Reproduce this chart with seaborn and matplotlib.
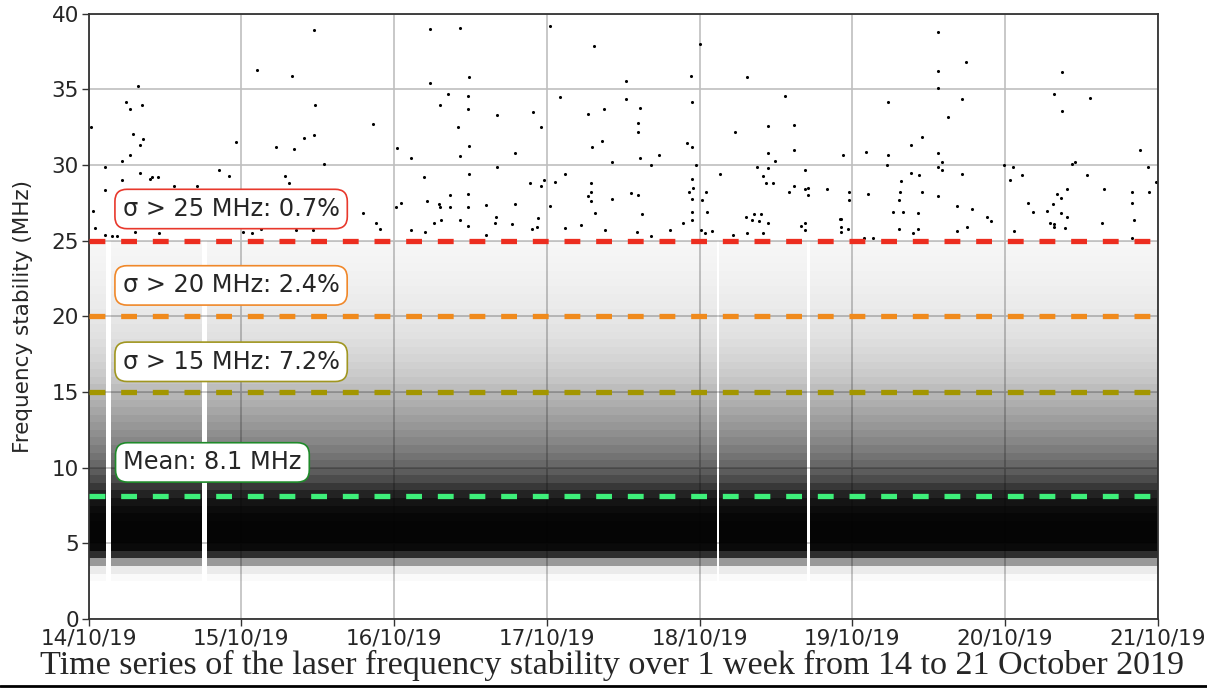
import numpy as np
import matplotlib
matplotlib.use("Agg")
import matplotlib.pyplot as plt
from matplotlib.colors import LinearSegmentedColormap
from matplotlib.lines import Line2D
import seaborn as sns

# ---------------------------------------------------------------- data
day_labels = ["14/10/19", "15/10/19", "16/10/19", "17/10/19",
              "18/10/19", "19/10/19", "20/10/19", "21/10/19"]

# Share of the plot covered by measurements, per 0.5 MHz band from 2.5 to 25 MHz
band_floor = 2.5
band_step = 0.5
band_cover = [0.02, 0.08, 0.40, 0.82, 0.96, 0.98, 0.98, 0.98, 0.97, 0.95,
              0.92, 0.86, 0.78, 0.70, 0.64, 0.59, 0.55, 0.51, 0.47, 0.44,
              0.41, 0.38, 0.35, 0.32, 0.29, 0.26, 0.23, 0.205, 0.185, 0.165,
              0.15, 0.135, 0.12, 0.11, 0.10, 0.09, 0.082, 0.075, 0.068, 0.062,
              0.056, 0.05, 0.045, 0.04, 0.036]

# Interruptions of the acquisition (hours after 14/10 00:00)
gap_start_h = [2.7, 17.9, 98.6, 112.9]
gap_end_h = [3.5, 18.7, 99.0, 113.3]

# Individual excursions above 25 MHz (hours after 14/10 00:00, MHz)
spike_h = [0.37, 7.7, 5.9, 6.5, 8.3, 6.9, 8.0, 8.6, 6.5, 5.2, 2.5, 23.2, 5.3, 8.0,
           9.6, 10.0, 10.85, 20.5, 22.1, 13.4, 17.0, 2.5, 0.6, 1.05, 7.2, 11.0,
           2.5, 3.6, 4.4,
           35.4, 26.4, 31.9, 35.6, 35.4, 33.8, 29.5, 32.2, 44.75, 37.05, 30.9,
           31.4, 43.1, 45.1, 45.7, 27.1, 24.2, 25.7, 32.6, 35.3,
           53.7, 58.3, 53.7, 59.7, 56.4, 55.2, 59.6, 59.6, 58.1, 59.7, 58.3,
           48.4, 50.7, 52.7, 59.7, 56.75, 59.6, 53.2, 55.1, 55.2, 56.75, 59.6,
           48.3, 49.1, 58.4, 59.6, 55.3, 54.3, 50.7, 52.9,
           72.5, 79.4, 84.4, 94.7, 96.0, 103.4, 74.05, 64.1, 69.8, 71.1, 67.05,
           64.1, 78.4, 81.0, 84.4, 86.7, 86.3, 86.3, 79.05, 80.7, 82.3, 86.7,
           89.6, 88.4, 94.8, 94.0, 94.8, 95.5, 109.5, 101.6, 106.8, 110.9,
           106.7, 110.9, 107.8, 105.0, 106.8, 105.95, 106.5, 107.5, 112.5,
           110.9, 112.6, 113.1, 113.1, 110.0, 116.1, 99.15, 62.4, 67.0, 69.3,
           71.1, 71.5, 73.3, 74.8, 72.5, 64.0, 63.9, 66.5, 70.6, 70.5, 69.7,
           78.9, 78.4, 79.0, 79.0, 79.6, 82.3, 85.2, 86.3, 86.9, 77.3, 81.1,
           74.8, 86.2, 88.3, 91.3, 93.4, 94.8, 94.8, 94.8, 94.9, 94.8, 94.3,
           96.4, 97.05, 97.1, 96.25, 98.0, 96.9, 103.3, 104.5, 105.7, 104.2,
           105.4, 106.8, 103.4, 105.95, 101.25, 111.9, 112.6, 112.6, 118.1,
           62.4,
           118.5, 133.5, 137.9, 133.5, 133.5, 137.2, 135.0, 125.6, 130.9,
           129.2, 122.1, 125.6, 125.5, 133.5, 134.1, 133.5, 134.1, 129.3,
           130.5, 137.2, 127.6, 127.5, 131.0, 133.5, 127.3, 126.4, 127.9,
           130.3, 136.5, 138.8, 141.2, 141.75, 122.5, 119.5, 119.5, 118.2,
           118.3, 119.4, 118.2, 127.3, 129.6, 130.3, 136.4, 138.0, 121.8,
           123.3, 152.9, 151.7, 152.9, 157.4, 165.2, 166.5, 154.5, 155.0,
           143.9, 145.3, 146.7, 144.8, 156.9, 153.7, 152.1, 152.8, 151.5,
           147.6, 148.4, 150.6, 152.8, 153.7, 151.0, 151.7, 151.7, 153.4,
           159.6, 159.3, 164.0, 164.0, 164.3, 166.7, 167.8, 145.4, 164.0]
spike_mhz = [32.5, 35.2, 34.2, 33.7, 34.0, 32.05, 31.35, 31.7, 30.65, 30.3, 29.9,
             31.5, 29.0, 29.5, 29.1, 29.2, 29.2, 29.7, 29.3, 28.6, 28.6, 28.35,
             27.0, 25.85, 25.6, 25.5, 25.4, 25.3, 25.3,
             38.9, 36.3, 35.9, 34.0, 32.0, 31.8, 31.2, 31.05, 32.75, 30.1, 29.3,
             28.8, 26.85, 26.2, 25.8, 25.8, 25.6, 25.5, 25.7, 25.7,
             39.0, 39.05, 35.4, 35.8, 34.7, 34.0, 34.6, 33.7, 32.5, 31.25, 30.6,
             31.1, 30.5, 29.2, 29.4, 28.0, 28.1, 27.6, 27.4, 27.2, 27.2, 27.2,
             27.2, 27.5, 26.4, 25.95, 26.4, 26.2, 25.7, 25.6,
             39.2, 37.9, 35.55, 35.9, 38.0, 35.8, 34.5, 33.3, 33.5, 32.5, 30.8,
             29.9, 33.4, 33.7, 34.4, 33.8, 32.8, 32.2, 31.2, 31.6, 30.2, 30.5,
             30.7, 30.0, 34.2, 31.45, 31.2, 30.0, 34.6, 32.2, 32.6, 32.65,
             30.8, 31.0, 30.3, 29.9, 29.8, 29.3, 28.8, 28.8, 29.7,
             28.65, 28.45, 28.5, 28.0, 28.2, 28.45, 29.4, 27.35, 27.45, 28.8,
             28.65, 29.0, 28.9, 29.4, 27.3, 26.6, 26.2, 26.1, 26.5, 25.9, 25.8,
             28.8, 27.95, 28.2, 27.6, 26.85, 27.75, 28.15, 28.05, 26.8, 26.05, 25.7,
             25.85, 25.6, 25.3, 25.7, 26.2, 26.9, 26.4, 27.75, 28.5, 29.05, 28.2,
             27.7, 28.2, 26.9, 25.7, 25.65, 25.5, 26.6, 26.75, 26.8, 26.4,
             26.3, 26.2, 25.5, 25.5, 25.4, 26.0, 26.2, 25.7, 26.45,
             25.35,
             30.7, 38.8, 36.8, 36.2, 35.1, 34.35, 33.2, 34.2, 31.85,
             31.3, 30.9, 30.7, 30.0, 30.8, 30.2, 29.9, 29.7, 29.5,
             29.35, 29.4, 28.95, 28.2, 28.2, 27.95, 27.7, 26.9, 26.9,
             26.85, 27.3, 27.1, 26.6, 26.3, 28.1, 28.2, 27.7, 26.45,
             25.9, 25.8, 25.6, 25.8, 25.5, 25.75, 25.65, 25.9, 25.2,
             25.2, 36.15, 34.7, 33.6, 34.45, 31.0, 29.9, 30.1, 30.2,
             30.0, 29.9, 29.35, 29.0, 29.35, 28.45, 28.1, 27.8, 27.45,
             27.5, 26.9, 26.95, 26.85, 26.6, 26.2, 26.1, 25.9, 25.85,
             28.4, 26.2, 28.25, 27.5, 26.4, 28.2, 28.9, 25.65, 25.2]

thresholds = [25, 20, 15]
threshold_share = [0.7, 2.4, 7.2]
threshold_colors = ["#ec2d1f", "#f08a1c", "#a39600"]
threshold_edges = ["#e8382c", "#f0882a", "#a09620"]
mean_mhz = 8.1

# ---------------------------------------------------------------- figure
sns.set_theme(style="whitegrid")
plt.rcParams["font.family"] = ["DejaVu Sans"]

fig = plt.figure(figsize=(12.07, 6.88), dpi=100)
ax = fig.add_axes([0.0735, 0.1003, 0.8857, 0.8796])
ax.set_axisbelow(True)

# Dense cloud of measurements: 10-minute columns, 0.5 MHz rows
col_edges = np.arange(0, 7 * 24 * 60 + 1, 10) / 1440.0
row_edges = band_floor + band_step * np.arange(len(band_cover) + 1)
col_mid = 0.5 * (col_edges[:-1] + col_edges[1:])
row_mid = 0.5 * (row_edges[:-1] + row_edges[1:])
cx, cy = np.meshgrid(col_mid, row_mid, indexing="ij")
cw = np.broadcast_to(np.asarray(band_cover)[None, :], cx.shape).copy()
hours = cx * 24
for g0, g1 in zip(gap_start_h, gap_end_h):
    cw[(hours >= g0) & (hours <= g1)] = 0.0
keep = cw > 0
ink = LinearSegmentedColormap.from_list("ink", [(0, 0, 0, 0), (0, 0, 0, 1)])
sns.histplot(x=cx[keep], y=cy[keep], weights=cw[keep],
             bins=[col_edges, row_edges], cmap=ink, vmin=0, vmax=1,
             ax=ax, zorder=1, linewidth=0)

# Isolated excursions
sns.scatterplot(x=np.asarray(spike_h) / 24.0, y=spike_mhz, s=5, color="black",
                linewidth=0, marker="o", ax=ax, zorder=2)

# Threshold and mean lines
for level, col in zip(thresholds, threshold_colors):
    ax.axhline(level, color=col, lw=3.8, ls=(0, (3, 3)), zorder=3)
ax.axhline(mean_mhz, color="#3ef07a", lw=3.8, ls=(0, (3, 3)), zorder=3)

# Annotations
label_y = [27.1, 22.05, 17.0]
for level, share, edge, ly in zip(thresholds, threshold_share, threshold_edges, label_y):
    ax.text(0.222, ly, f"σ > {level} MHz: {share}%", fontsize=17.3, va="center",
            ha="left", zorder=5,
            bbox=dict(boxstyle="round,pad=0.32,rounding_size=0.5", fc="white",
                      ec=edge, lw=1.2))
ax.text(0.226, 10.35, f"Mean: {mean_mhz} MHz", fontsize=17.3, va="center",
        ha="left", zorder=5,
        bbox=dict(boxstyle="round,pad=0.32,rounding_size=0.5", fc="white",
                  ec="#1f8a2a", lw=1.2))

# Axes styling
ax.set_xlim(0, 7)
ax.set_ylim(0, 40)
ax.set_xticks(range(len(day_labels)))
ax.set_xticklabels(day_labels)
ax.set_yticks(range(0, 41, 5))
ax.set_xlabel("")
ax.set_ylabel("Frequency stability (MHz)", fontsize=15.5, labelpad=13)
ax.tick_params(axis="both", labelsize=15.5, direction="out", length=5, width=1,
               color="#333333", pad=2, bottom=True, left=True)
ax.grid(True, color="#bfbfbf", lw=1.2)
for side in ["left", "right", "top", "bottom"]:
    ax.spines[side].set_visible(True)
    ax.spines[side].set_color("#333333")
    ax.spines[side].set_linewidth(1.3)

fig.text(0.507, 1 - 665 / 688,
         "Time series of the laser frequency stability over 1 week from 14 to 21 October 2019",
         ha="center", va="center", fontsize=24.6, family=["Liberation Serif", "DejaVu Serif"])
fig.add_artist(Line2D([0, 1], [1 - 686 / 688] * 2, color="black", lw=2))

fig.savefig("out.png", dpi=100)
